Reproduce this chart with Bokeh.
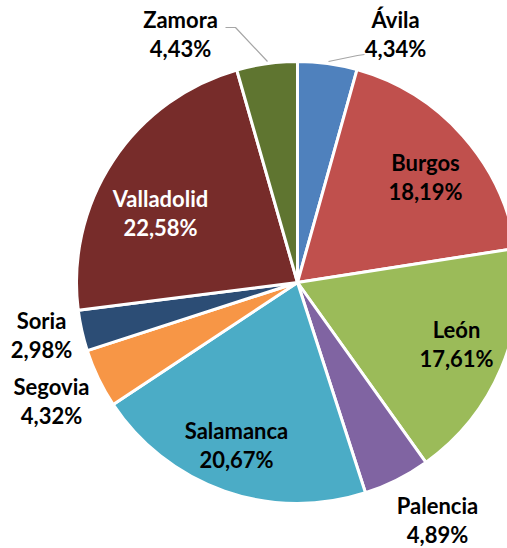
import math
from bokeh.plotting import figure
from bokeh.models import ColumnDataSource, Range1d
from bokeh.core.properties import value
from bokeh.embed import file_html
from bokeh.resources import INLINE

# ---- data ----
provinces = ["Ávila", "Burgos", "León", "Palencia", "Salamanca",
             "Segovia", "Soria", "Valladolid", "Zamora"]
shares = [4.34, 18.19, 17.61, 4.89, 20.67, 4.32, 2.98, 22.58, 4.43]
pct_labels = ["4,34%", "18,19%", "17,61%", "4,89%", "20,67%",
              "4,32%", "2,98%", "22,58%", "4,43%"]

# ---- style / layout ----
colors = ["#4F81BD", "#C0504D", "#9BBB59", "#8064A2", "#4BACC6",
          "#F79646", "#2C4D75", "#772C2A", "#5F7530"]
text_colors = ["black"] * 7 + ["white", "black"]
# label block centers in page pixels
label_x = [395, 425, 456, 437, 236, 51, 41, 160, 180]
label_y = [33, 176, 343, 519, 444, 400, 334, 212, 33]
CX, CY, R = 297, 282, 221

total = sum(shares)
starts, ends = [], []
cum = 0.0
for s in shares:
    starts.append(math.pi / 2 - 2 * math.pi * cum / total)
    cum += s
    ends.append(math.pi / 2 - 2 * math.pi * cum / total)

W, H = 507, 548
p = figure(width=W, height=H, output_backend="svg", toolbar_location=None,
           x_range=Range1d(0, W), y_range=Range1d(-H, 0),
           min_border=0)
p.axis.visible = False
p.grid.visible = False
p.outline_line_color = None
p.background_fill_color = "white"
p.border_fill_color = "white"

src = ColumnDataSource(dict(start=starts, end=ends, color=colors,
                            name=provinces))
p.wedge(x=CX, y=-CY, radius=R, start_angle="start", end_angle="end",
        direction="clock", fill_color="color", line_color="white",
        line_width=3, source=src)

# leader lines (Zamora, Ávila)
p.line(x=[225, 235, 267], y=[-27, -27, -61], line_color="#A6A6A6", line_width=1.2)
p.line(x=[328, 357, 364], y=[-61, -55, -54], line_color="#A6A6A6", line_width=1.2)

lsrc = ColumnDataSource(dict(
    x=label_x,
    y1=[-(y - 14.5) for y in label_y],
    y2=[-(y + 14.5) for y in label_y],
    name=provinces, pct=pct_labels, tc=text_colors))
for col, tcol in (("y1", "name"), ("y2", "pct")):
    p.text(x="x", y=col, text=tcol, source=lsrc, text_color="tc",
           text_font=value("Lato"), text_font_style="bold",
           text_font_size="22px", text_align="center",
           text_baseline="middle")

open("out.html", "w").write(file_html(p, INLINE))
